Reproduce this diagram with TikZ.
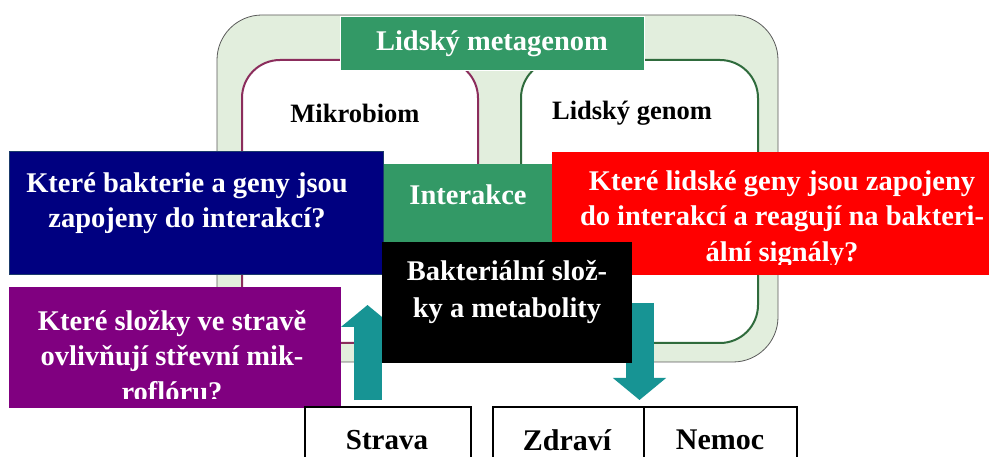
\documentclass[tikz,border=0pt]{standalone}
\usepackage{fontspec}
\setmainfont{Liberation Serif}
\usetikzlibrary{arrows.meta}
\definecolor{bandfill}{HTML}{E2EEDD}
\definecolor{bandline}{HTML}{5A5A5A}
\definecolor{mikroline}{HTML}{8B2D5C}
\definecolor{genomline}{HTML}{2F6B3C}
\definecolor{metagreen}{HTML}{339966}
\definecolor{navyq}{HTML}{000080}
\definecolor{navyline}{HTML}{1B3A6B}
\definecolor{redq}{HTML}{FF0000}
\definecolor{purpleq}{HTML}{800080}
\definecolor{tealarrow}{HTML}{179494}
\begin{document}
\begin{tikzpicture}[x=1pt,y=-1pt,
  box/.style={rectangle, inner sep=0pt, outer sep=0pt},
  qtext/.style={text=white, font=\fontsize{28.5}{35.5}\selectfont\bfseries, align=center, inner sep=0pt},
  lbl/.style={font=\fontsize{26.5}{30}\selectfont\bfseries, inner sep=0pt},
  bottomlbl/.style={font=\fontsize{30}{34}\selectfont\bfseries, inner sep=0pt},
  bottombox/.style={box, draw=black, line width=1.5pt},
  fatarrow/.style={draw=tealarrow, line width=28pt, -{Triangle[width=52pt,length=22pt]}},
]
\useasboundingbox (0,0) rectangle (989,457);
\clip (0,0) rectangle (989,457);
\fill[white] (0,0) rectangle (989,457);

% metagenome band and the two inner areas
\node[box, draw=bandline, line width=0.8pt, fill=bandfill, rounded corners=45pt,
      minimum width=561pt, minimum height=347pt] (band) at (497.5,188.5) {};
\node[box, draw=mikroline, line width=2pt, fill=white, rounded corners=38pt,
      minimum width=236pt, minimum height=283pt] (mikro) at (360,201.5) {};
\node[box, draw=genomline, line width=2pt, fill=white, rounded corners=38pt,
      minimum width=237pt, minimum height=283pt] (genom) at (639.5,201.5) {};

\node[box, fill=metagreen, draw=white, line width=1pt, minimum width=304pt, minimum height=54pt,
      text=white, font=\fontsize{28.5}{32}\selectfont\bfseries] (meta) at (492,44) {Lidský metagenom};
\node[lbl] (mikrolbl) at (355,113) {Mikrobiom};
\node[lbl] (genomlbl) at (632,113) {Lidský genom};

% interaction
\node[box, fill=metagreen, minimum width=169pt, minimum height=78pt] (interbox) at (467.5,203) {};
\node[qtext] (intertext) at (468,195) {Interakce};

% blue question
\node[box, fill=navyq, draw=navyline, line width=1pt, minimum width=374pt, minimum height=123pt] (bluebox) at (196,213.5) {};
\node[qtext] (bluetext) at (187,203) {Které bakterie a geny jsou\\zapojeny do interakcí?};

% red question
\node[box, fill=redq, minimum width=443pt, minimum height=123pt] (redbox) at (773.5,213.5) {};
\begin{scope}
  \clip (552,152) rectangle (989,265);
  \node[qtext] (redtext) at (782,219) {Které lidské geny jsou zapojeny\\do interakcí a reagují na bakteri-\\ální signály?};
\end{scope}

% arrows
\coordinate (upstart) at (367.5,400);
\coordinate (uptip) at (367.5,305);
\coordinate (downstart) at (639.5,303);
\coordinate (downtip) at (639.5,400);
\draw[fatarrow] (upstart) -- (uptip);
\draw[fatarrow] (downstart) -- (downtip);

% black box
\node[box, fill=black, minimum width=250pt, minimum height=121pt] (blackbox) at (507,302.5) {};
\node[qtext, font=\fontsize{28.5}{37}\selectfont\bfseries] (blacktext) at (507,292) {Bakteriální slož-\\ky a metabolity};

% purple question
\node[box, fill=purpleq, minimum width=332pt, minimum height=121pt] (purplebox) at (175,347.5) {};
\begin{scope}
  \clip (9,287) rectangle (341,398);
  \node[qtext] (purpletext) at (172,356) {Které složky ve stravě\\ovlivňují střevní mik-\\roflóru?};
\end{scope}

% bottom boxes
\node[bottombox, minimum width=166pt, minimum height=63pt] (stravabox) at (388,438.5) {};
\node[bottomlbl, font=\fontsize{29}{34}\selectfont\bfseries] (strava) at (387,440) {Strava};
\node[bottombox, minimum width=151pt, minimum height=63pt] (zdravibox) at (568.5,438.5) {};
\node[bottombox, minimum width=153pt, minimum height=63pt] (nemocbox) at (720.5,438.5) {};
\node[bottomlbl] (zdravi) at (567,440) {Zdraví};
\node[bottomlbl] (nemoc) at (720,440) {Nemoc};
\end{tikzpicture}
\end{document}
